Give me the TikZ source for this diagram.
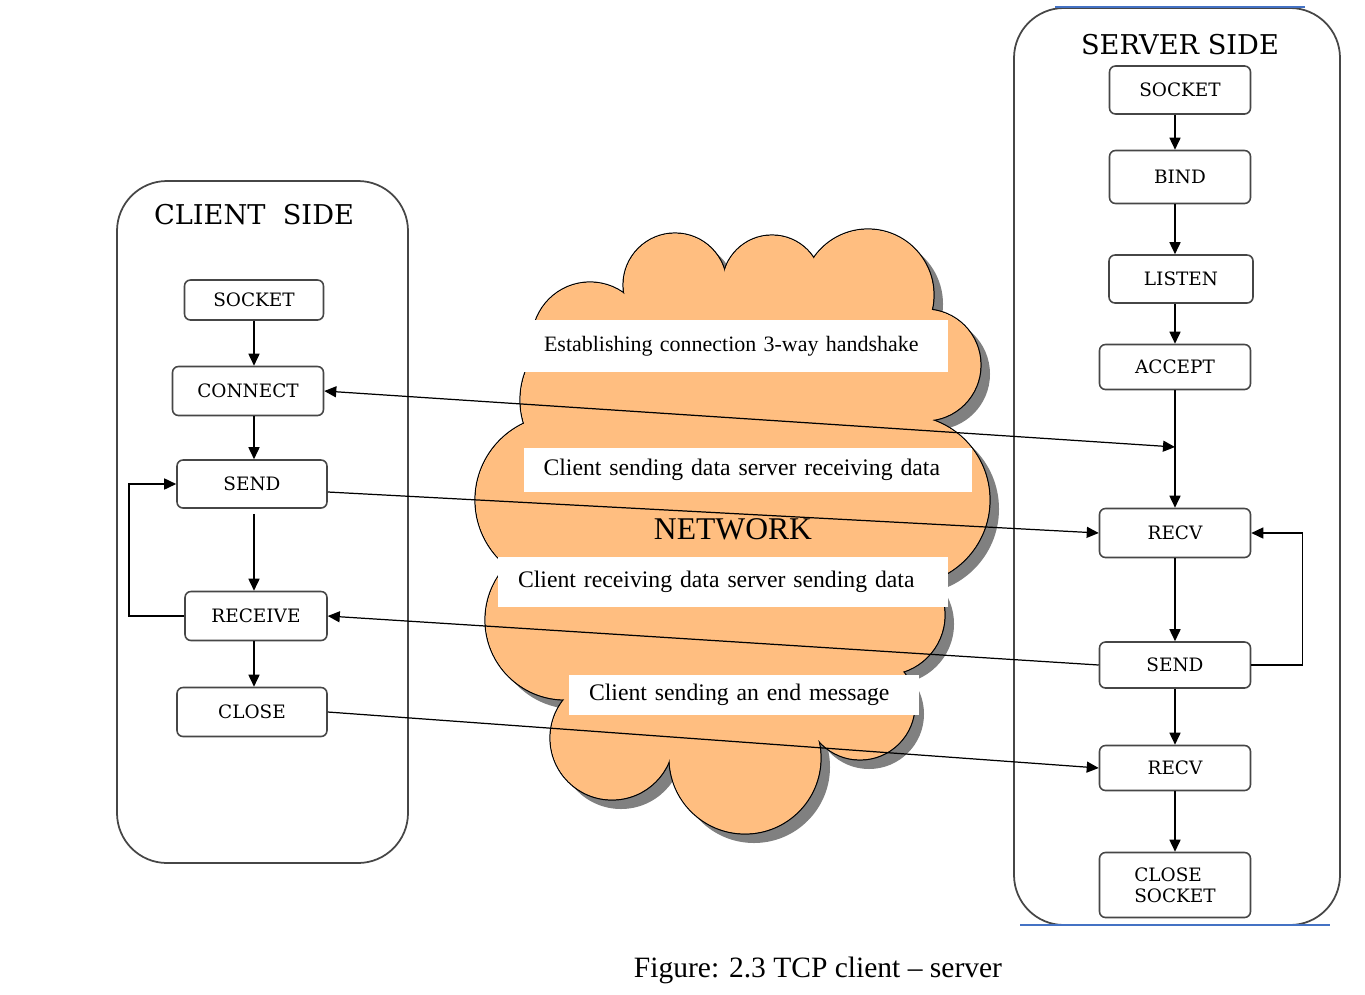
\documentclass[tikz,border=0pt]{standalone}
\usepackage{fontspec}
\setmainfont{Liberation Serif}
\newfontfamily\boxfont{DejaVu Serif}
\usetikzlibrary{arrows.meta, positioning}
\definecolor{cloudfill}{RGB}{255,190,128}
\definecolor{framegray}{RGB}{70,70,70}
\definecolor{wordblue}{RGB}{68,114,196}
% puffs of the network cloud: x/y/radius
\newcommand{\puffs}{590/340/58, 675/285/52, 772/285/50, 868/295/66, 925/365/56, 905/500/85,
  885/615/60, 860/705/55, 745/758/76, 612/738/62, 565/620/80, 560/500/85, 600/400/80}
\newcommand{\puffcore}{(590,340) -- (675,285) -- (772,285) -- (868,295) -- (925,365) -- (905,500)
  -- (885,615) -- (860,705) -- (745,758) -- (612,738) -- (565,620) -- (560,500) -- (600,400) -- cycle}

\begin{document}
\begin{tikzpicture}[x=0.02cm, y=-0.02cm,
  box/.style={draw=framegray, line width=0.9pt, rounded corners=0.12cm, fill=white,
    align=center, font=\boxfont\fontsize{10.5}{12}\selectfont},
  side/.style={draw=framegray, line width=1pt, rounded corners=1cm},
  msg/.style={fill=white, inner xsep=0.4cm, inner ysep=0pt, align=left, text width=#1,
    font=\fontsize{13.5}{15}\selectfont},
  flow/.style={-{Triangle[length=0.24cm, width=0.22cm]}, line width=0.9pt}]
  \useasboundingbox (0,0) rectangle (1365,994);

  % side frames
  \draw[side] (117,181) rectangle (408,863);
  \draw[side] (1014,8) rectangle (1340,925);
  \draw[wordblue, line width=0.8pt] (1055,7) -- (1305,7);
  \draw[wordblue, line width=0.8pt] (1020,925) -- (1330,925);
  \node[font=\boxfont\fontsize{15.5}{18}\selectfont] (ctitle) at (254,215) {CLIENT\ \ SIDE};
  \node[font=\boxfont\fontsize{15.5}{18}\selectfont] (stitle) at (1180,45) {SERVER SIDE};

  % network cloud (shadow, outline, then fill over the inner arcs)
  \begin{scope}[shift={(9,9)}]
    \fill[gray] \puffcore;
    \foreach \cx/\cy/\r in \puffs
      \fill[gray] (\cx,\cy) circle[radius={\r*0.02cm}];
  \end{scope}
  \foreach \cx/\cy/\r in \puffs
    \draw[line width=0.7pt] (\cx,\cy) circle[radius={\r*0.02cm}];
  \foreach \cx/\cy/\r in \puffs
    \fill[cloudfill] (\cx,\cy) circle[radius={\r*0.02cm-0.35pt}];
  \fill[cloudfill] \puffcore;
  \node[font=\fontsize{18}{20}\selectfont] (net) at (733,529) {NETWORK};

  \node[msg=7.68cm, font=\fontsize{12.5}{14}\selectfont, minimum height=1.04cm] (m1) at (736,346) {Establishing connection 3-way handshake};
  \node[msg=8.18cm, minimum height=0.88cm] (m2) at (748,470) {Client sending data server receiving data};
  \node[msg=8.2cm, minimum height=1cm] (m3) at (723,582) {Client receiving data server sending data};
  \node[msg=6.2cm, minimum height=0.8cm] (m4) at (744,695) {Client sending an end message};

  % client side
  \node[box, minimum width=2.78cm, minimum height=0.8cm] (csocket) at (254,300) {SOCKET};
  \node[box, minimum width=3.02cm, minimum height=0.98cm] (cconnect) at (248,391) {CONNECT};
  \node[box, minimum width=3cm, minimum height=0.96cm] (csend) at (252,484) {SEND};
  \node[box, minimum width=2.84cm, minimum height=0.98cm] (creceive) at (256,616) {RECEIVE};
  \node[box, minimum width=3cm, minimum height=0.98cm] (cclose) at (252,712) {CLOSE};

  \draw[flow] (csocket.south) -- (csocket.south |- cconnect.north);
  \draw[flow] (csocket |- cconnect.south) -- (csocket |- csend.north);
  \draw[flow] ([yshift=-0.1cm]csocket |- csend.south) -- (csocket |- creceive.north);
  \draw[flow] (csocket |- creceive.south) -- (csocket |- cclose.north);
  \draw[flow] (creceive.west) -- ++(-55,0) |- (csend.west);

  % server side
  \node[box, minimum width=2.82cm, minimum height=0.96cm] (ssocket) at (1180,90) {SOCKET};
  \node[box, minimum width=2.82cm, minimum height=1.06cm] (sbind) at (1180,177) {BIND};
  \node[box, minimum width=2.88cm, minimum height=0.96cm] (slisten) at (1181,279) {LISTEN};
  \node[box, minimum width=3.02cm, minimum height=0.9cm] (saccept) at (1175,367) {ACCEPT};
  \node[box, minimum width=3.02cm, minimum height=0.98cm] (srecv) at (1175,533) {RECV};
  \node[box, minimum width=3.02cm, minimum height=0.92cm] (ssend) at (1175,665) {SEND};
  \node[box, minimum width=3.02cm, minimum height=0.9cm] (srecvend) at (1175,768) {RECV};
  \node[box, align=left, minimum width=3.02cm, minimum height=1.3cm] (sclose) at (1175,885) {CLOSE\\SOCKET};
  \coordinate (shake) at (1175,447);

  \draw[flow] (srecv |- ssocket.south) -- (srecv |- sbind.north);
  \draw[flow] (srecv |- sbind.south) -- (srecv |- slisten.north);
  \draw[flow] (srecv |- slisten.south) -- (saccept.north);
  \draw[flow] (saccept.south) -- (srecv.north);
  \draw[flow] (srecv.south) -- (ssend.north);
  \draw[flow] (ssend.south) -- (srecvend.north);
  \draw[flow] (srecvend.south) -- (sclose.north);
  \draw[flow] (ssend.east) -- ++(51,0) |- (srecv.east);

  % messages across the network
  \draw[flow, line width=0.7pt, {Triangle[length=0.24cm, width=0.22cm]}-{Triangle[length=0.24cm, width=0.22cm]}] (cconnect.east) -- (shake);
  \draw[flow, line width=0.7pt] ([yshift=-0.16cm]csend.east) -- (srecv.west);
  \draw[flow, line width=0.7pt] (ssend.west) -- (creceive.east);
  \draw[flow, line width=0.7pt] (cclose.east) -- (srecvend.west);

  \node[font=\fontsize{16.8}{19}\selectfont] (caption) at (818,970) {Figure: 2.3 TCP client -- server};
\end{tikzpicture}
\end{document}
